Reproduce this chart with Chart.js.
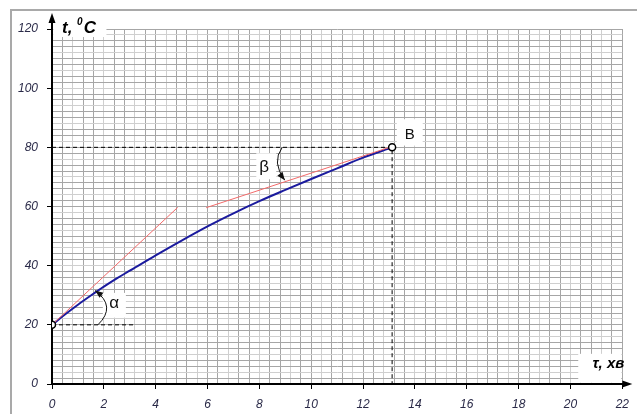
<!DOCTYPE html>
<html>
<head>
<meta charset="utf-8">
<script src="https://cdn.jsdelivr.net/npm/chart.js@4/dist/chart.umd.min.js"></script>
<style>
  html, body { margin: 0; padding: 0; background: #fff; }
  #wrap { position: relative; width: 637px; height: 414px; overflow: hidden; }
  #frame { position: absolute; left: 10px; top: 9px; width: 700px; height: 500px;
           border-left: 2px solid #a9a9a9; border-top: 2px solid #a9a9a9; }
  canvas { position: absolute; left: 0; top: 0; display: block; }
</style>
</head>
<body>
<div id="wrap">
  <div id="frame"></div>
  <canvas id="chart" width="637" height="414"></canvas>
</div>
<script>
// Heating curve t(τ): time in minutes, temperature in °C
const tauValues  = [0, 0.5, 1, 1.5, 2, 2.5, 3, 4, 5, 6, 7, 8, 9, 10, 11, 12, 13.12];
const tempValues = [20, 23.5, 26.8, 29.9, 32.9, 35.7, 38.3, 43.5, 48.5, 53.3, 57.7, 61.8, 65.6, 69.3, 72.9, 76.5, 80];

// Tangent at the start point and tangent at point B
const startTangentTau  = [0, 4.85];
const startTangentTemp = [20, 59.7];
const endTangentTau    = [5.95, 13.12];
const endTangentTemp   = [59.6, 80.3];

// Start point and point B
const markerTau  = [0, 13.12];
const markerTemp = [20, 80];

// Axis ticks and labels
const xMajorTicks = [0, 2, 4, 6, 8, 10, 12, 14, 16, 18, 20, 22];
const xTickLabels = ['0', '2', '4', '6', '8', '10', '12', '14', '16', '18', '20', '22'];
const yMajorTicks = [0, 20, 40, 60, 80, 100, 120];
const yTickLabels = ['0', '20', '40', '60', '80', '100', '120'];
const xGridStep = 0.4;
const yGridStep = 2;

const FONT = "'Liberation Sans', Arial, sans-serif";
const pts = (xs, ys) => xs.map((x, i) => ({ x: x, y: ys[i] }));

function gridTicks(min, max, step) {
  const out = [];
  const n = Math.round((max - min) / step);
  for (let i = 0; i <= n; i++) out.push({ value: +(min + i * step).toFixed(4) });
  return out;
}

// alternate darker and lighter rulings of the graph paper
const gridShade = c => (c.index % 3 === 2) ? '#cfcfcf' : '#a6a6a6';

// White label backgrounds, axis arrows, angle arcs and captions
const decorations = {
  id: 'decorations',
  beforeDatasetsDraw(chart) {
    const { ctx, scales: { x, y } } = chart;
    const box = (t0, t1, v0, v1) => {
      const l = x.getPixelForValue(t0), r = x.getPixelForValue(t1);
      const tp = y.getPixelForValue(v1), b = y.getPixelForValue(v0);
      ctx.fillRect(l, tp, r - l, b - tp);
    };
    ctx.save();
    ctx.fillStyle = '#fff';
    box(0.05, 2.1, 117.3, 126);     // y-axis caption
    box(20.3, 21.96, 0.4, 10.2);    // x-axis caption
    box(13.3, 14.3, 80.6, 89.5);    // "B"
    box(1.96, 2.85, 22.4, 30.8);    // α
    box(7.88, 8.65, 69.2, 78.0);    // β
    ctx.restore();
  },
  afterDatasetsDraw(chart) {
    const { ctx, chartArea: a, scales: { x, y } } = chart;
    const px = v => x.getPixelForValue(v), py = v => y.getPixelForValue(v);
    ctx.save();

    // axis extensions with arrowheads
    const x0 = Math.round(px(0)), y0 = Math.round(py(0));
    ctx.strokeStyle = '#000'; ctx.fillStyle = '#000'; ctx.lineWidth = 2;
    ctx.beginPath(); ctx.moveTo(x0, a.top); ctx.lineTo(x0, a.top - 10); ctx.stroke();
    ctx.beginPath(); ctx.moveTo(x0, a.top - 16); ctx.lineTo(x0 - 3.5, a.top - 6); ctx.lineTo(x0 + 3.5, a.top - 6); ctx.closePath(); ctx.fill();
    ctx.beginPath(); ctx.moveTo(a.right, y0); ctx.lineTo(a.right + 3, y0); ctx.stroke();
    ctx.beginPath(); ctx.moveTo(a.right + 10, y0); ctx.lineTo(a.right, y0 - 3.5); ctx.lineTo(a.right, y0 + 3.5); ctx.closePath(); ctx.fill();

    // angle arcs with arrowheads
    const arc = (p0, p1, p2) => {
      const P0 = [px(p0[0]), py(p0[1])], P1 = [px(p1[0]), py(p1[1])], P2 = [px(p2[0]), py(p2[1])];
      ctx.lineWidth = 1; ctx.strokeStyle = '#111';
      ctx.beginPath(); ctx.moveTo(P0[0], P0[1]); ctx.quadraticCurveTo(P1[0], P1[1], P2[0], P2[1]); ctx.stroke();
      const ang = Math.atan2(P2[1] - P1[1], P2[0] - P1[0]);
      const L = 8, W = 3.2;
      ctx.beginPath();
      ctx.moveTo(P2[0], P2[1]);
      ctx.lineTo(P2[0] - L * Math.cos(ang) + W * Math.sin(ang), P2[1] - L * Math.sin(ang) - W * Math.cos(ang));
      ctx.lineTo(P2[0] - L * Math.cos(ang) - W * Math.sin(ang), P2[1] - L * Math.sin(ang) + W * Math.cos(ang));
      ctx.closePath(); ctx.fillStyle = '#111'; ctx.fill();
    };
    arc([1.77, 20], [2.5, 26.2], [1.66, 31.6]);
    arc([8.88, 80], [8.46, 74.9], [8.98, 68.9]);

    // captions
    ctx.fillStyle = '#111';
    ctx.textBaseline = 'middle'; ctx.textAlign = 'center';
    ctx.font = '17px ' + FONT;
    ctx.fillText('α', px(2.4), py(27.2));
    ctx.fillText('β', px(8.18), py(73.3));
    ctx.font = '15px ' + FONT;
    ctx.fillText('B', px(13.8), py(84.3));

    // axis titles
    ctx.fillStyle = '#000';
    ctx.textBaseline = 'alphabetic'; ctx.textAlign = 'left';
    let tx = a.left + 10, ty = a.top + 4;
    ctx.font = 'italic bold 17px ' + FONT;
    ctx.fillText('t,', tx, ty);
    tx += ctx.measureText('t, ').width;
    ctx.font = 'italic bold 10px ' + FONT;
    ctx.fillText('0', tx, ty - 8);
    tx += ctx.measureText('0').width + 1;
    ctx.font = 'italic bold 17px ' + FONT;
    ctx.fillText('C', tx, ty);

    ctx.textAlign = 'right';
    ctx.font = 'italic bold 15px ' + FONT;
    ctx.fillText('τ, хв', a.right + 2, py(0) - 16);
    ctx.restore();
  }
};

new Chart(document.getElementById('chart'), {
  type: 'scatter',
  data: {
    datasets: [
      { // markers
        data: pts(markerTau, markerTemp), showLine: false, order: 0,
        pointStyle: 'circle', pointRadius: 3.5, pointBorderWidth: 1.5,
        pointBackgroundColor: '#fff', pointBorderColor: '#000'
      },
      { // tangent at start
        data: pts(startTangentTau, startTangentTemp), showLine: true, order: 1,
        borderColor: '#f26a6a', borderWidth: 1, pointRadius: 0
      },
      { // tangent at B
        data: pts(endTangentTau, endTangentTemp), showLine: true, order: 1,
        borderColor: '#f26a6a', borderWidth: 1, pointRadius: 0
      },
      { // heating curve
        data: pts(tauValues, tempValues), showLine: true, order: 2,
        borderColor: '#1b1b9e', borderWidth: 2, pointRadius: 0,
        cubicInterpolationMode: 'monotone'
      },
      { // guide at t = 20
        data: [{ x: 0, y: markerTemp[0] }, { x: 3.2, y: markerTemp[0] }], showLine: true, order: 3,
        borderColor: '#000', borderWidth: 1, borderDash: [4, 3], pointRadius: 0
      },
      { // guides to point B
        data: [{ x: 0, y: markerTemp[1] }, { x: markerTau[1], y: markerTemp[1] }, { x: markerTau[1], y: 0 }],
        showLine: true, order: 3, tension: 0,
        borderColor: '#000', borderWidth: 1, borderDash: [4, 3], pointRadius: 0
      }
    ]
  },
  options: {
    responsive: false,
    animation: false,
    devicePixelRatio: 1,
    layout: { padding: { top: 29, right: 13, left: 0, bottom: 0 } },
    plugins: { legend: { display: false }, tooltip: { enabled: false } },
    scales: {
      x: {
        type: 'linear', min: 0, max: 22,
        afterFit: s => { s.height = 30; },
        afterBuildTicks: s => { s.ticks = gridTicks(0, 22, xGridStep); },
        ticks: {
          autoSkip: false, maxRotation: 0, padding: 8, color: '#2a2a48',
          font: { family: FONT, size: 12, style: 'italic' },
          callback: v => { const i = xMajorTicks.indexOf(v); return i >= 0 ? xTickLabels[i] : ''; }
        },
        grid: {
          color: gridShade, lineWidth: 1, tickLength: 5, tickWidth: 1,
          tickColor: c => (c.tick && xMajorTicks.includes(c.tick.value)) ? '#000' : 'rgba(0,0,0,0)'
        },
        border: { display: true, color: '#000', width: 2 }
      },
      y: {
        type: 'linear', min: 0, max: 120,
        afterFit: s => { s.width = 52; },
        afterBuildTicks: s => { s.ticks = gridTicks(0, 120, yGridStep); },
        ticks: {
          autoSkip: false, padding: 9, color: '#2a2a48',
          font: { family: FONT, size: 12, style: 'italic' },
          callback: v => { const i = yMajorTicks.indexOf(v); return i >= 0 ? yTickLabels[i] : ''; }
        },
        grid: {
          color: gridShade, lineWidth: 1, tickLength: 5, tickWidth: 1,
          tickColor: c => (c.tick && yMajorTicks.includes(c.tick.value)) ? '#000' : 'rgba(0,0,0,0)'
        },
        border: { display: true, color: '#000', width: 2 }
      }
    }
  },
  plugins: [decorations]
});
</script>
</body>
</html>
